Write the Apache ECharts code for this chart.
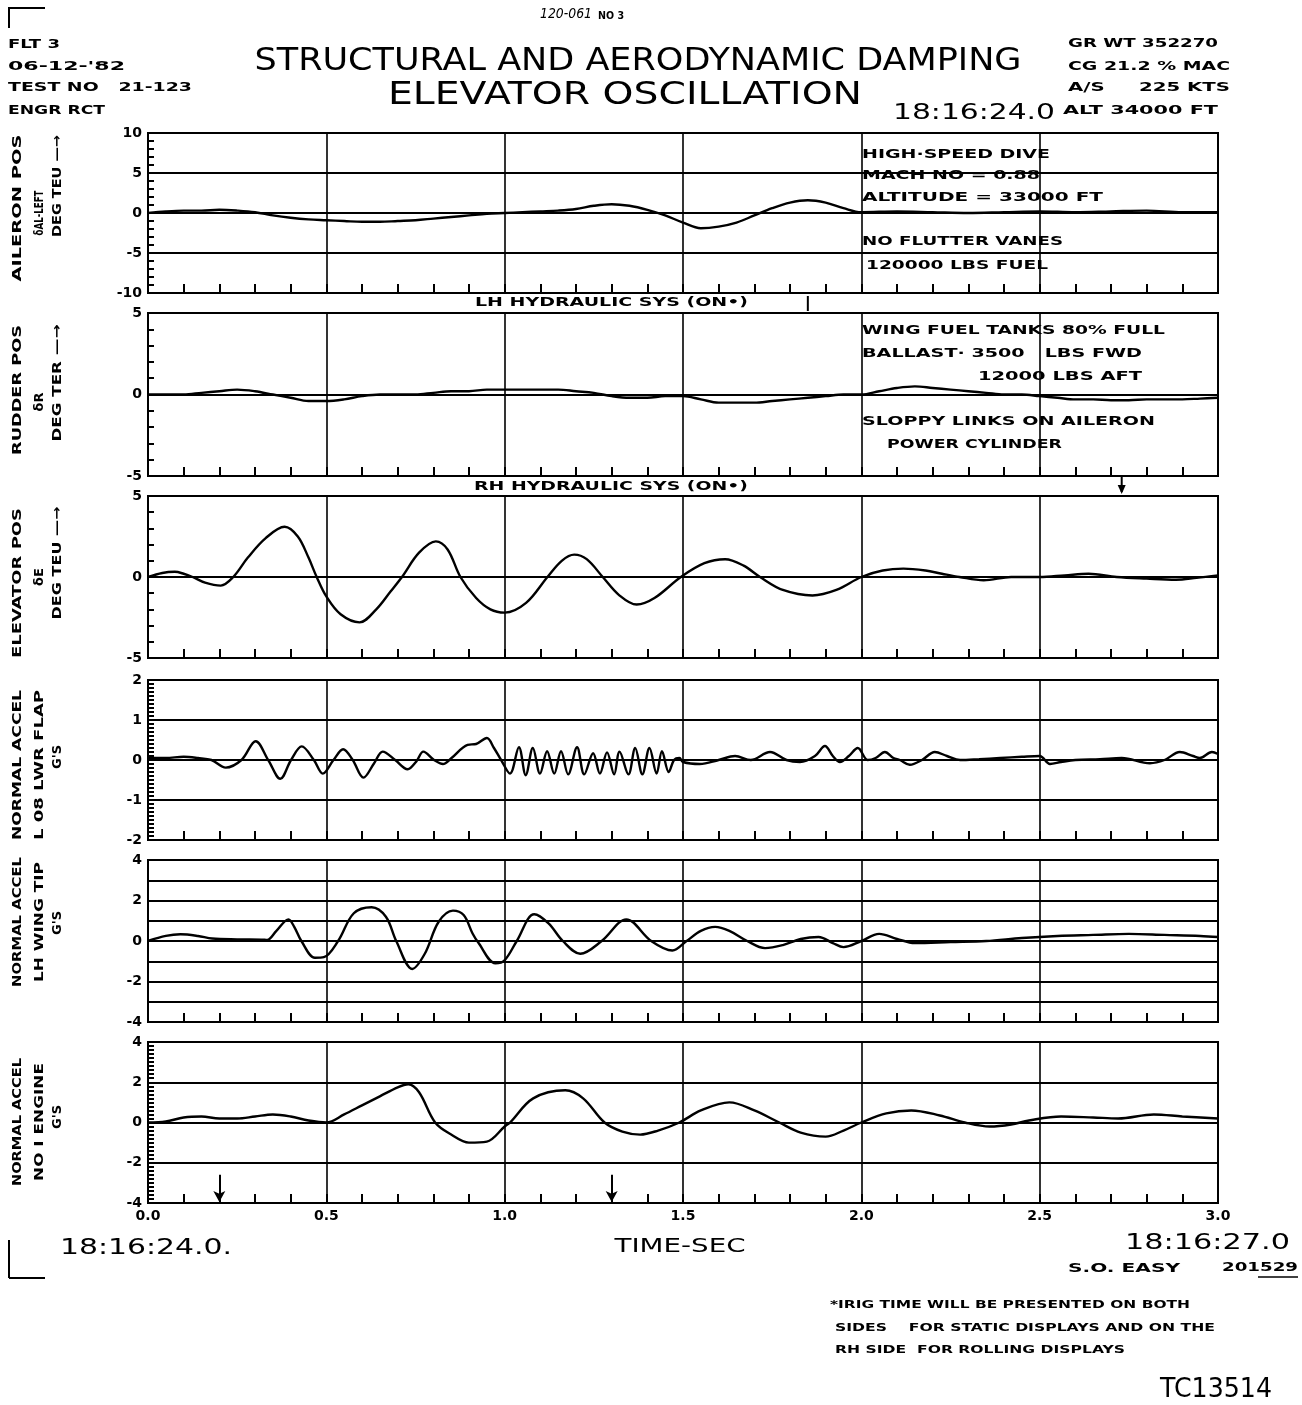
<!DOCTYPE html>
<html><head><meta charset="utf-8">
<script src="https://cdn.jsdelivr.net/npm/echarts@6/dist/echarts.min.js"></script>
<style>html,body{margin:0;padding:0;background:#fff}#c{width:1302px;height:1405px}</style>
</head><body><div id="c"></div>
<script>
// ---------------- DATA ----------------
const timeTickLabels = ['0.0','0.5','1.0','1.5','2.0','2.5','3.0'];

const aileronT = [0,0.05,0.1,0.15,0.2,0.25,0.3,0.35,0.4,0.45,0.5,0.55,0.6,0.65,0.7,0.75,0.8,0.85,0.9,0.95,1.0,1.05,1.1,1.15,1.2,1.25,1.3,1.35,1.4,1.45,1.5,1.55,1.6,1.65,1.7,1.75,1.8,1.85,1.9,1.95,2.0,2.1,2.2,2.3,2.4,2.5,2.6,2.7,2.8,2.9,3.0];
const aileronV = [0,0.2,0.3,0.3,0.4,0.3,0.1,-0.3,-0.6,-0.8,-0.9,-1.0,-1.1,-1.1,-1.0,-0.9,-0.7,-0.5,-0.3,-0.1,0,0.1,0.2,0.3,0.5,0.9,1.1,0.9,0.4,-0.3,-1.2,-1.9,-1.7,-1.2,-0.3,0.6,1.3,1.6,1.3,0.6,0.1,0.2,0.1,0,0.1,0.2,0.1,0.2,0.3,0.1,0.1];

const rudderT = [0,0.05,0.1,0.15,0.2,0.25,0.3,0.35,0.4,0.45,0.5,0.55,0.6,0.65,0.7,0.75,0.8,0.85,0.9,0.95,1.0,1.05,1.1,1.15,1.2,1.25,1.3,1.35,1.4,1.45,1.5,1.55,1.6,1.65,1.7,1.75,1.8,1.85,1.9,1.95,2.0,2.05,2.1,2.15,2.2,2.25,2.3,2.35,2.4,2.45,2.5,2.55,2.6,2.65,2.7,2.75,2.8,2.85,2.9,2.95,3.0];
const rudderV = [0,0,0,0.1,0.2,0.3,0.2,0,-0.2,-0.4,-0.4,-0.3,-0.1,0,0,0,0.1,0.2,0.2,0.3,0.3,0.3,0.3,0.3,0.2,0.1,-0.1,-0.2,-0.2,-0.1,-0.1,-0.3,-0.5,-0.5,-0.5,-0.4,-0.3,-0.2,-0.1,0,0,0.2,0.4,0.5,0.4,0.3,0.2,0.1,0,0,-0.1,-0.2,-0.3,-0.3,-0.35,-0.35,-0.3,-0.3,-0.3,-0.25,-0.2];

const elevT = [0,0.04,0.075,0.1,0.125,0.16,0.204,0.239,0.28,0.33,0.383,0.42,0.45,0.473,0.5,0.54,0.593,0.64,0.68,0.712,0.76,0.807,0.84,0.876,0.92,0.96,1.0,1.06,1.12,1.16,1.195,1.23,1.275,1.32,1.37,1.42,1.494,1.56,1.618,1.67,1.716,1.78,1.863,1.93,2.0,2.06,2.118,2.18,2.226,2.275,2.343,2.42,2.5,2.57,2.637,2.716,2.8,2.882,2.94,3.0];
const elevV = [0,0.25,0.32,0.2,0,-0.35,-0.53,0,1.2,2.4,3.1,2.5,1.2,0,-1.2,-2.3,-2.8,-2.0,-0.9,0,1.5,2.2,1.7,0,-1.3,-2.0,-2.2,-1.6,0,1.0,1.38,1.1,0,-1.1,-1.7,-1.3,0,0.85,1.1,0.7,0,-0.8,-1.14,-0.8,0,0.4,0.52,0.4,0.2,0,-0.2,0,0,0.1,0.2,0,-0.1,-0.17,-0.05,0.1];

const flapT = [0,0.05,0.1,0.14,0.178,0.218,0.262,0.302,0.337,0.371,0.401,0.431,0.465,0.49,0.52,0.547,0.574,0.604,0.634,0.658,0.693,0.728,0.752,0.772,0.802,0.827,0.851,0.896,0.92,0.95,0.97,0.99,1.015,1.04,1.059,1.079,1.099,1.119,1.139,1.158,1.178,1.203,1.223,1.248,1.267,1.287,1.307,1.322,1.347,1.366,1.386,1.406,1.426,1.441,1.46,1.475,1.49,1.5,1.547,1.6,1.646,1.69,1.744,1.79,1.828,1.87,1.898,1.92,1.94,1.965,1.99,2.018,2.04,2.066,2.09,2.108,2.136,2.17,2.206,2.24,2.277,2.33,2.389,2.45,2.5,2.529,2.56,2.6,2.669,2.73,2.809,2.85,2.893,2.93,2.949,2.983,3.0];
const flapV = [0.05,0.05,0.08,0.05,0,-0.19,0,0.47,0,-0.47,0,0.34,0,-0.34,0,0.27,0,-0.44,-0.08,0.21,0,-0.23,-0.04,0.21,0,-0.1,0.05,0.38,0.4,0.55,0.3,0,-0.34,0.32,-0.38,0.3,-0.34,0.22,-0.34,0.22,-0.36,0.32,-0.36,0.17,-0.34,0.19,-0.36,0.21,-0.36,0.3,-0.36,0.3,-0.34,0.22,-0.3,0.0,0.05,-0.05,-0.1,0,0.1,0,0.2,0,-0.05,0.1,0.35,0.1,-0.05,0.1,0.3,0,0.05,0.2,0.05,0,-0.12,0,0.2,0.1,0,0.02,0.05,0.08,0.1,-0.1,-0.05,0,0.02,0.05,-0.08,0,0.2,0.1,0.05,0.2,0.15];

const wingT = [0,0.05,0.091,0.14,0.18,0.25,0.319,0.334,0.36,0.394,0.41,0.43,0.468,0.493,0.533,0.577,0.627,0.667,0.696,0.741,0.776,0.815,0.855,0.885,0.91,0.925,0.974,0.999,1.034,1.083,1.123,1.163,1.212,1.272,1.341,1.411,1.47,1.51,1.55,1.59,1.63,1.68,1.73,1.78,1.83,1.88,1.92,1.95,2.0,2.05,2.1,2.15,2.25,2.35,2.45,2.55,2.65,2.75,2.85,2.95,3.0];
const wingV = [0,0.25,0.33,0.25,0.12,0.08,0.07,0.05,0.5,1.07,0.7,0,-0.83,-0.8,0,1.37,1.67,1.2,0,-1.38,-0.63,0.95,1.5,1.28,0.37,-0.05,-1.1,-0.97,0,1.32,0.87,0,-0.63,0,1.07,0,-0.47,0,0.5,0.7,0.5,0,-0.35,-0.2,0.1,0.2,-0.1,-0.3,0,0.35,0.1,-0.1,-0.05,0,0.15,0.25,0.3,0.35,0.3,0.25,0.2];

const engT = [0,0.05,0.1,0.15,0.2,0.25,0.3,0.35,0.4,0.45,0.5,0.55,0.6,0.65,0.7,0.73,0.76,0.805,0.85,0.9,0.95,1.0,1.015,1.08,1.17,1.22,1.28,1.33,1.38,1.43,1.49,1.55,1.63,1.7,1.77,1.83,1.9,1.95,2.0,2.07,2.14,2.22,2.29,2.36,2.42,2.47,2.56,2.65,2.72,2.82,2.9,3.0];
const engV = [0,0.05,0.25,0.3,0.2,0.2,0.3,0.4,0.3,0.1,0,0.4,0.85,1.3,1.75,1.9,1.5,0,-0.6,-1.0,-0.95,-0.2,0,1.2,1.6,1.2,0,-0.45,-0.6,-0.4,0,0.6,1.0,0.6,0,-0.5,-0.7,-0.4,0,0.45,0.6,0.35,0,-0.2,-0.1,0.1,0.3,0.25,0.2,0.4,0.3,0.2];

const engineArrowT = [0.2, 1.3];     // event arrows on bottom panel (sec)
const elevArrowT = 2.73;             // event arrow above elevator panel
const lhMarkT = 1.85;                // tick after LH HYDRAULIC label

// ---------------- LAYOUT / STYLE ----------------
const panels = [
  {top:133, height:160, min:-10, max:10, interval:5, minor:5, t:aileronT, v:aileronV},
  {top:313, height:163, min:-5,  max:5,  interval:5, minor:5, t:rudderT,  v:rudderV},
  {top:496, height:162, min:-5,  max:5,  interval:5, minor:5, t:elevT,    v:elevV},
  {top:680, height:160, min:-2,  max:2,  interval:1, minor:10, t:flapT,   v:flapV},
  {top:860, height:162, min:-4,  max:4,  interval:1, minor:0, every:2, t:wingT, v:wingV},
  {top:1042,height:161, min:-4,  max:4,  interval:2, minor:10, t:engT,    v:engV}
];
const LEFT = 148, WIDTH = 1070;
const BLK = '#000';
const FAM = '"DejaVu Sans"';

const grids = [], xAxes = [], yAxes = [], series = [];
panels.forEach((p, i) => {
  grids.push({left: LEFT, width: WIDTH, top: p.top, height: p.height, show: true,
    borderColor: BLK, borderWidth: 2, backgroundColor: 'transparent'});
  xAxes.push({gridIndex: i, type: 'value', min: 0, max: 3, interval: 0.5, position: 'bottom',
    axisLine: {show: true, onZero: false, lineStyle: {color: BLK, width: 2}},
    axisTick: {show: true, inside: true, length: 9, lineStyle: {color: BLK, width: 2}},
    minorTick: {show: true, splitNumber: 5, length: 9, lineStyle: {color: BLK, width: 2}},
    splitLine: {show: true, lineStyle: {color: BLK, width: 1.6}},
    axisLabel: {show: i === 5, margin: 6, color: BLK, fontSize: 14, fontWeight: 'bold', fontFamily: 'DejaVu Sans',
      formatter: v => timeTickLabels[Math.round(v / 0.5)]}
  });
  yAxes.push({gridIndex: i, type: 'value', min: p.min, max: p.max, interval: p.interval, position: 'left',
    axisLine: {show: true, onZero: false, lineStyle: {color: BLK, width: 2}},
    axisTick: {show: true, inside: true, length: 10, lineStyle: {color: BLK, width: 2}},
    minorTick: {show: p.minor > 0, splitNumber: p.minor || 5, length: 6, lineStyle: {color: BLK, width: 2}},
    splitLine: {show: true, lineStyle: {color: BLK, width: 2}},
    axisLabel: {margin: 6, color: BLK, fontSize: 14, fontWeight: 'bold', fontFamily: 'DejaVu Sans',
      formatter: v => (p.every && Math.round(v) % p.every !== 0) ? '' : String(v)}
  });
  const s = {type: 'line', xAxisIndex: i, yAxisIndex: i, showSymbol: false, smooth: 0.35,
    lineStyle: {color: BLK, width: 2.4}, data: p.t.map((t, k) => [t, p.v[k]]), z: 5, animation: false};
  if (i === 5) {
    s.markLine = {silent: true, animation: false, symbol: ['none', 'arrow'], symbolSize: [9, 11],
      lineStyle: {color: BLK, width: 2, type: 'solid'}, label: {show: false},
      data: engineArrowT.map(t => [{coord: [t, -2.6]}, {coord: [t, -3.95]}])};
  }
  series.push(s);
});

const chart = echarts.init(document.getElementById('c'), null, {renderer: 'canvas'});
chart.setOption({backgroundColor: '#fff', animation: false, grid: grids, xAxis: xAxes, yAxis: yAxes, series});

// ---------------- TEXT ----------------
const mctx = document.createElement('canvas').getContext('2d');
function T(text, x, y, o) {
  o = o || {};
  const size = o.size || 13, weight = o.weight || 'bold', fam = o.family || FAM;
  const font = (o.italic ? 'italic ' : '') + weight + ' ' + size + 'px ' + fam;
  let sx = 1;
  if (o.w) { mctx.font = font; sx = o.w / mctx.measureText(text).width; }
  return {type: 'text', x, y, rotation: o.rot || 0, scaleX: sx, silent: true, z: 20,
    style: {text, font, fill: BLK, align: o.align || 'left', verticalAlign: 'middle'}};
}
const V = Math.PI / 2;
const g = [];
// header left
g.push(T('FLT 3', 8, 45, {w: 52}));
g.push(T("06-12-'82", 8, 67, {w: 117}));
g.push(T('TEST NO   21-123', 8, 88, {w: 184}));
g.push(T('ENGR RCT', 8, 111, {w: 97}));
// title
g.push(T('120-061', 540, 14, {size: 14, weight: 'normal', italic: true, w: 52}));
g.push(T('NO 3', 598, 16, {size: 11, w: 26}));
g.push(T('STRUCTURAL AND AERODYNAMIC DAMPING', 638, 62, {size: 32, weight: 'normal', align: 'center', w: 767}));
g.push(T('ELEVATOR OSCILLATION', 625, 96, {size: 32, weight: 'normal', align: 'center', w: 474}));
g.push(T('18:16:24.0', 974, 113, {size: 22, weight: 'normal', align: 'center', w: 162}));
// header right
g.push(T('GR WT 352270', 1068, 44, {w: 150}));
g.push(T('CG 21.2 % MAC', 1068, 67, {w: 162}));
g.push(T('A/S     225 KTS', 1068, 88, {w: 162}));
g.push(T('ALT 34000 FT', 1063, 111, {w: 155}));
// vertical axis titles
const vt = [
  ['AILERON POS', 18, 208, 147], ['δAL-LEFT', 40, 213, 45], ['DEG TEU —→', 58, 186, 102],
  ['RUDDER POS', 18, 390, 130], ['δR', 40, 402, 0], ['DEG TER —→', 58, 383, 117],
  ['ELEVATOR POS', 18, 583, 150], ['δE', 40, 577, 0], ['DEG TEU —→', 58, 563, 113],
  ['NORMAL ACCEL', 18, 765, 150], ['L 08 LWR FLAP', 40, 765, 150], ["G'S", 58, 757, 0],
  ['NORMAL ACCEL', 18, 922, 130], ['LH WING TIP', 40, 922, 120], ["G'S", 58, 923, 0],
  ['NORMAL ACCEL', 18, 1122, 128], ['NO I ENGINE', 40, 1122, 118], ["G'S", 58, 1117, 0]
];
vt.forEach(([s, x, y, w]) => g.push(T(s, x, y, {rot: V, align: 'center', size: 13, w: w || undefined})));
// annotations inside panels
g.push(T('HIGH·SPEED DIVE', 862, 155, {w: 188}));
g.push(T('MACH NO = 0.88', 862, 176, {w: 178}));
g.push(T('ALTITUDE = 33000 FT', 862, 198, {w: 241}));
g.push(T('NO FLUTTER VANES', 862, 242, {w: 201}));
g.push(T('120000 LBS FUEL', 866, 266, {w: 182}));
g.push(T('WING FUEL TANKS 80% FULL', 862, 331, {w: 303}));
g.push(T('BALLAST· 3500   LBS FWD', 862, 354, {w: 280}));
g.push(T('12000 LBS AFT', 978, 377, {w: 164}));
g.push(T('SLOPPY LINKS ON AILERON', 862, 422, {w: 293}));
g.push(T('POWER CYLINDER', 887, 445, {w: 175}));
g.push(T('LH HYDRAULIC SYS (ON•)', 475, 303, {size: 12, w: 273}));
g.push(T('RH HYDRAULIC SYS (ON•)', 474, 487, {size: 12, w: 274}));
// bottom
g.push(T('18:16:24.0.', 60, 1248, {size: 22, weight: 'normal', w: 172}));
g.push(T('TIME-SEC', 680, 1247, {size: 20, align: 'center', weight: 'normal', w: 131}));
g.push(T('18:16:27.0', 1125, 1243, {size: 22, weight: 'normal', w: 165}));
g.push(T('S.O. EASY', 1068, 1269, {w: 112}));
g.push(T('201529', 1222, 1268, {size: 12, w: 76}));
g.push(T('*IRIG TIME WILL BE PRESENTED ON BOTH', 830, 1305, {size: 11, w: 360}));
g.push(T('SIDES    FOR STATIC DISPLAYS AND ON THE', 835, 1328, {size: 11, w: 380}));
g.push(T('RH SIDE  FOR ROLLING DISPLAYS', 835, 1350, {size: 11, w: 290}));
g.push(T('TC13514', 1160, 1390, {size: 26, weight: 'normal', w: 112}));
// lines: corner brackets, underline
const L = (x1, y1, x2, y2, w) => ({type: 'line', silent: true, z: 20,
  shape: {x1, y1, x2, y2}, style: {stroke: BLK, lineWidth: w || 2}});
g.push(L(8, 8, 45, 8), L(9, 8, 9, 28));
g.push(L(9, 1240, 9, 1278), L(9, 1278, 45, 1278));
g.push(L(1258, 1277, 1298, 1277, 1.5));
// event marks positioned through the x scale
const px = t => chart.convertToPixel({xAxisIndex: 0}, t);
const xm = px(lhMarkT);
g.push(L(xm, 296, xm, 311));
const xa = px(elevArrowT);
g.push(L(xa, 475, xa, 492));
g.push({type: 'polygon', silent: true, z: 20, shape: {points: [[xa - 4, 485], [xa + 4, 485], [xa, 494]]}, style: {fill: BLK}});
chart.setOption({graphic: g});
</script></body></html>
